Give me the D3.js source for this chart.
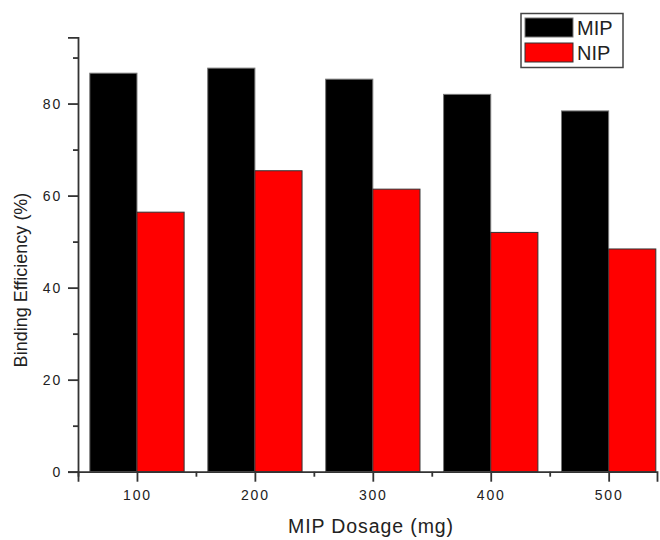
<!DOCTYPE html>
<html><head><meta charset="utf-8">
<script src="https://cdn.jsdelivr.net/npm/d3@7"></script>
<style>body{margin:0;background:#fff}svg{display:block}</style>
</head><body>
<svg id="c" width="660" height="540"></svg>
<script>
const categories = [100, 200, 300, 400, 500];
const mipValues = [86.6, 87.7, 85.3, 82.0, 78.4];
const nipValues = [56.4, 65.4, 61.4, 52.0, 48.4];
const yMajorTicks = [0, 20, 40, 60, 80];
const yMinorTicks = [10, 30, 50, 70, 90];
const xMinorTicks = [50, 150, 250, 350, 450];
const seriesNames = ["MIP", "NIP"];
const seriesColors = ["#000000", "#ff0000"];

const svg = d3.select("#c");
const x = d3.scaleLinear().domain([50, 541]).range([78, 657]);
const y = d3.scaleLinear().domain([0, 94.4]).range([471.7, 37.3]);
const barUnits = 40;
const axisColor = "#333";

// bars
const g = svg.append("g");
categories.forEach((c, i) => {
  g.append("rect")
    .attr("x", x(c - barUnits)).attr("width", x(c) - x(c - barUnits))
    .attr("y", y(mipValues[i])).attr("height", y(0) - y(mipValues[i]))
    .attr("fill", seriesColors[0]).attr("stroke", "#777").attr("stroke-width", 1);
  g.append("rect")
    .attr("x", x(c)).attr("width", x(c + barUnits) - x(c))
    .attr("y", y(nipValues[i])).attr("height", y(0) - y(nipValues[i]))
    .attr("fill", seriesColors[1]).attr("stroke", "#333").attr("stroke-width", 1);
});

// y axis
const yAxis = d3.axisLeft(y).tickValues(yMajorTicks).tickSize(10).tickPadding(6).tickFormat(d3.format("d"));
const ya = svg.append("g").attr("transform", "translate(78,0)").call(yAxis);
ya.select(".domain").attr("stroke", axisColor).attr("stroke-width", 1.8);
ya.selectAll(".tick line").attr("stroke", axisColor).attr("stroke-width", 1.8);
ya.selectAll(".tick text").attr("font-family", "Liberation Sans, Arial, sans-serif")
  .attr("font-size", 14).attr("fill", "#222").style("letter-spacing", "1.8px");
const yMinor = d3.axisLeft(y).tickValues(yMinorTicks).tickSize(5).tickFormat("");
const ym = svg.append("g").attr("transform", "translate(78,0)").call(yMinor);
ym.select(".domain").remove();
ym.selectAll(".tick line").attr("stroke", axisColor).attr("stroke-width", 1.8);

// x axis
const xAxis = d3.axisBottom(x).tickValues(categories).tickSize(10).tickPadding(8).tickFormat(d3.format("d"));
const xa = svg.append("g").attr("transform", `translate(0,${y(0)})`).call(xAxis);
xa.select(".domain").attr("stroke", axisColor).attr("stroke-width", 1.8);
xa.selectAll(".tick line").attr("stroke", axisColor).attr("stroke-width", 1.8);
xa.selectAll(".tick text").attr("font-family", "Liberation Sans, Arial, sans-serif")
  .attr("font-size", 14).attr("fill", "#222").style("letter-spacing", "1.8px");
const xMinor = d3.axisBottom(x).tickValues(xMinorTicks).tickSize(5).tickFormat("");
const xm = svg.append("g").attr("transform", `translate(0,${y(0)})`).call(xMinor);
xm.select(".domain").remove();
xm.selectAll(".tick line").attr("stroke", axisColor).attr("stroke-width", 1.8);

// axis titles
svg.append("text").attr("x", 371).attr("y", 533).attr("text-anchor", "middle")
  .attr("font-family", "Liberation Sans, Arial, sans-serif").attr("font-size", 19.5)
  .attr("fill", "#222").style("letter-spacing", "0.9px").text("MIP Dosage (mg)");
svg.append("text").attr("transform", "translate(27,280) rotate(-90)").attr("text-anchor", "middle")
  .attr("font-family", "Liberation Sans, Arial, sans-serif").attr("font-size", 18)
  .attr("fill", "#222").text("Binding Efficiency (%)");

// legend
const lg = svg.append("g");
lg.append("rect").attr("x", 521).attr("y", 13.5).attr("width", 102).attr("height", 54)
  .attr("fill", "#fff").attr("stroke", "#444").attr("stroke-width", 1.5);
seriesNames.forEach((n, i) => {
  lg.append("rect").attr("x", 525).attr("y", 18 + i * 25).attr("width", 48).attr("height", 19)
    .attr("fill", seriesColors[i]).attr("stroke", i ? "#333" : "#777").attr("stroke-width", 1);
  lg.append("text").attr("x", 577).attr("y", 35 + i * 25)
    .attr("font-family", "Liberation Sans, Arial, sans-serif").attr("font-size", 20)
    .attr("fill", "#222").text(n);
});
</script>
</body></html>
